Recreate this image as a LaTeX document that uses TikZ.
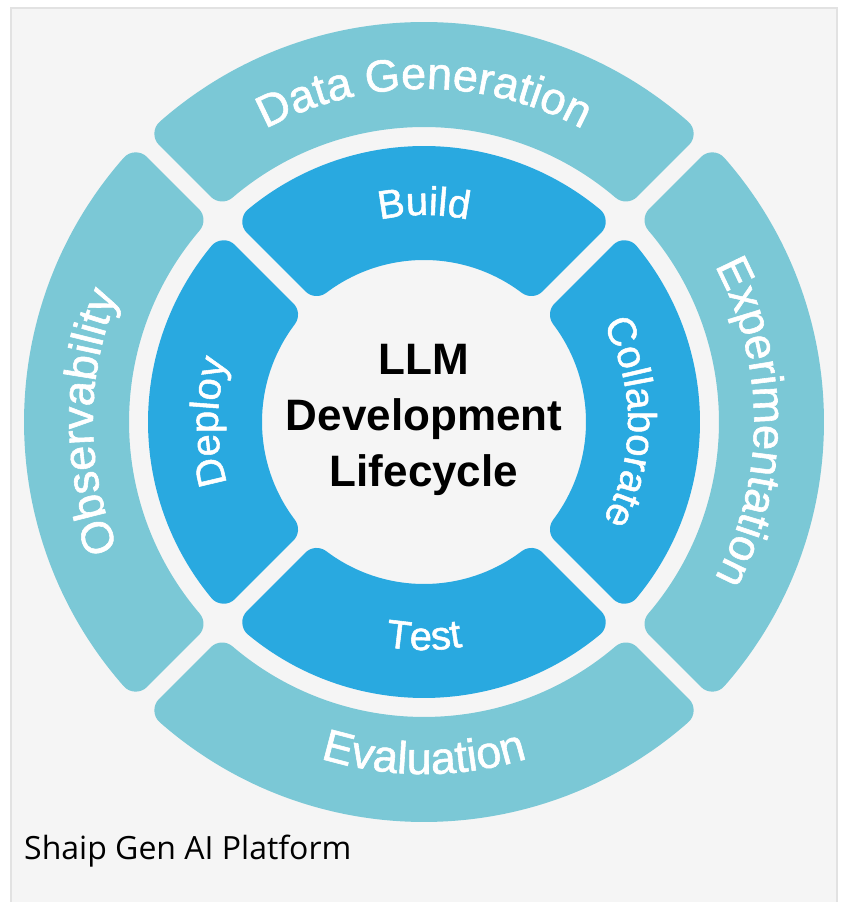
\documentclass[tikz,border=0pt]{standalone}
\usepackage{fontspec}
\setmainfont{Liberation Sans}
\newfontfamily\capfont{Open Sans}
\newfontfamily\labfont[FakeBold=1.3]{Liberation Sans}
\usetikzlibrary{decorations.text}

\definecolor{ringout}{HTML}{7BC8D6}
\definecolor{ringin}{HTML}{29A9E0}
\definecolor{panel}{HTML}{F5F5F5}
\definecolor{panelline}{HTML}{E2E2E2}

\newcommand{\rnd}{16}
\newcommand{\gapw}{17}
\newcommand{\outlab}{\labfont\fontsize{45}{54}\selectfont}
\newcommand{\inlab}{\labfont\fontsize{40}{48}\selectfont}

% one band piece: mid angle, outer r, inner r, colour
\newcommand{\ringpart}[4]{%
  \pgfmathsetmacro{\ro}{#2-\rnd}
  \pgfmathsetmacro{\ri}{#3+\rnd}
  \pgfmathsetmacro{\ao}{asin((\gapw/2+\rnd)/\ro)}
  \pgfmathsetmacro{\ai}{asin((\gapw/2+\rnd)/\ri)}
  \filldraw[fill=#4, draw=#4, line width=2*\rnd, line join=round]
    (#1-45+\ao:\ro) arc[start angle=#1-45+\ao, end angle=#1+45-\ao, radius=\ro]
    -- (#1+45-\ai:\ri) arc[start angle=#1+45-\ai, end angle=#1-45+\ai, radius=\ri]
    -- cycle;
}
% text on an arc: text, from, to, radius, font
\newcommand{\arclabel}[5]{%
  \path[decorate, decoration={text along path, text align=center,
      text color=white, text={|#5|#1}}]
    (#2:#4) arc[start angle=#2, end angle=#3, radius=#4];
}

\begin{document}
\begin{tikzpicture}[x=1pt, y=1pt]
\useasboundingbox (0,0) rectangle (842,902);
\fill[white] (0,0) rectangle (842,902);
\draw[fill=panel, draw=panelline, line width=2] (11,-4) rectangle (837,894);

\begin{scope}[shift={(424,480)}]
\foreach \ang in {0,90,180,270} {
  \ringpart{\ang}{400}{295}{ringout}
  \ringpart{\ang}{276}{162}{ringin}
}
\arclabel{Data Generation}{150}{30}{333}{\outlab}
\arclabel{Experimentation}{60}{-60}{330}{\outlab}
\arclabel{Evaluation}{210}{330}{352}{\outlab}
\arclabel{Observability}{240}{120}{331}{\outlab}
\arclabel{Build}{150}{30}{207}{\inlab}
\arclabel{Collaborate}{60}{-60}{204}{\inlab}
\arclabel{Test}{210}{330}{228}{\inlab}
\arclabel{Deploy}{240}{120}{206}{\inlab}

\node[font=\bfseries\fontsize{44}{56}\selectfont, align=center, inner sep=0] (core) at (0,2) {LLM\\Development\\Lifecycle};
\end{scope}

\node[anchor=base west, inner sep=0, font=\capfont\fontsize{32}{38}\selectfont] (caption) at (24,42) {Shaip Gen AI Platform};
\end{tikzpicture}
\end{document}
